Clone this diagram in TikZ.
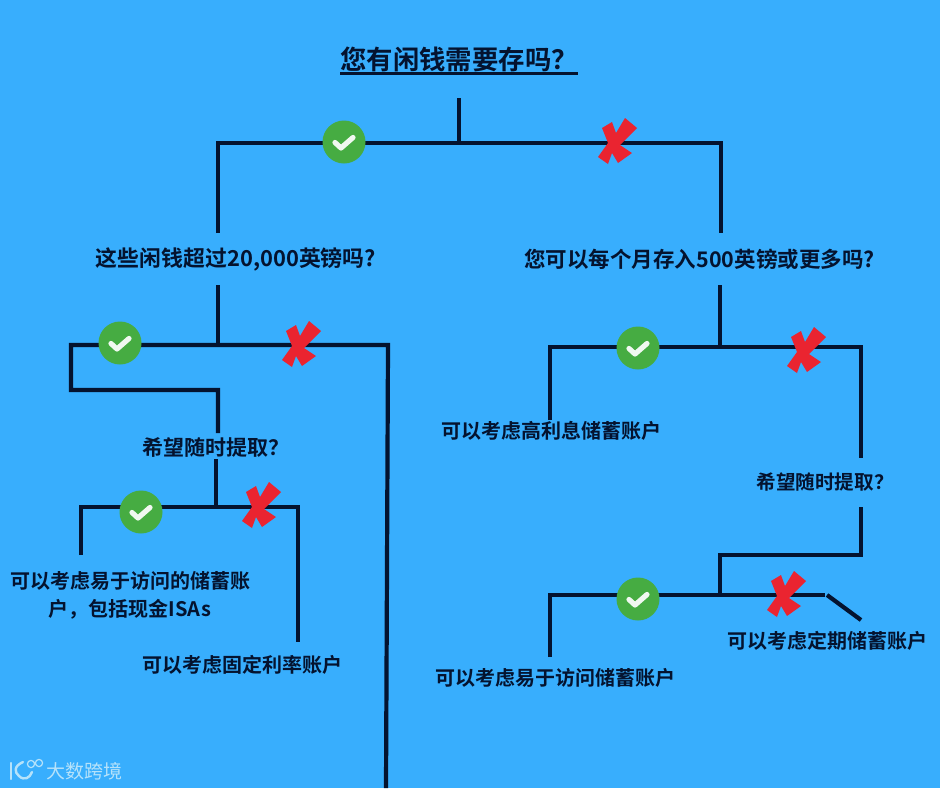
\documentclass[tikz,border=0pt]{standalone}
\usepackage{fontspec}
\newfontfamily\cjkb{Noto Sans CJK SC Bold}
\newfontfamily\cjkr{Noto Sans CJK SC}
\definecolor{bgblue}{HTML}{38AEFD}
\definecolor{ink}{HTML}{04132F}
\definecolor{okgreen}{HTML}{46AC42}
\definecolor{nored}{HTML}{EA2430}
\definecolor{wm}{HTML}{B5E2FA}
\tikzset{
  x=1pt,y=-1pt,
  wire/.style={draw=ink,line width=4.2pt,line join=miter,line cap=butt},
  label/.style={text=ink,font=\cjkb\fontsize{20}{28}\selectfont,inner sep=0pt,align=center},
  yes/.style={circle,fill=okgreen,minimum size=43pt,inner sep=0pt,
    path picture={\draw[white!92!okgreen,line width=5.2pt,line cap=round,line join=round]
      ([shift={(-9,0.5)}]path picture bounding box.center)--++(6,5.5)--++(12,-10.5);}},
  no/.style={minimum size=52pt,inner sep=0pt,
    path picture={\fill[nored]
      ([shift={(8,-24)}]path picture bounding box.center)--([shift={(20,-14)}]path picture bounding box.center)
      --([shift={(3,3)}]path picture bounding box.center)--([shift={(15,11)}]path picture bounding box.center)
      --([shift={(1,21)}]path picture bounding box.center)--([shift={(-5,11)}]path picture bounding box.center)
      --([shift={(-9,22)}]path picture bounding box.center)--([shift={(-19,15)}]path picture bounding box.center)
      --([shift={(-9,1)}]path picture bounding box.center)--([shift={(-15,-14)}]path picture bounding box.center)
      --([shift={(-5,-20)}]path picture bounding box.center)--([shift={(-1,-9)}]path picture bounding box.center)--cycle;}}
}
\begin{document}
\begin{tikzpicture}
\path[fill=bgblue,use as bounding box] (0,0) rectangle (940,788);

% free ends and junctions
\coordinate (top) at (459,98);
\coordinate (j0) at (459,143);
\coordinate (h0l) at (218,143);
\coordinate (h0r) at (721,143);
\coordinate (l0e) at (218,233);
\coordinate (r0e) at (721,233);

\coordinate (ls) at (218,285);
\coordinate (lj) at (218,345);
\coordinate (h1l) at (71,345);
\coordinate (h1r) at (388,345);
\coordinate (h1e) at (386,788);
\coordinate (b1) at (71,390);
\coordinate (b2) at (218,390);
\coordinate (b3) at (218,433);

\coordinate (ms) at (216,459);
\coordinate (mj) at (216,507);
\coordinate (h2l) at (81,507);
\coordinate (h2r) at (298,507);
\coordinate (h2le) at (81,555);
\coordinate (h2re) at (298,642);

\coordinate (rs) at (720,285);
\coordinate (rj) at (720,347);
\coordinate (h3l) at (550,347);
\coordinate (h3r) at (861,347);
\coordinate (h3le) at (550,420);
\coordinate (h3re) at (861,458);

\coordinate (s1) at (861,507);
\coordinate (s2) at (861,555);
\coordinate (s3) at (720,555);
\coordinate (s4) at (720,595);
\coordinate (h4l) at (550,595);
\coordinate (h4r) at (825,595);
\coordinate (h4le) at (550,657);
\coordinate (d1) at (827,595);
\coordinate (d2) at (861,620);

% connectors
\draw[wire] (top)--(j0);
\draw[wire] (l0e)--(h0l)--(h0r)--(r0e);
\draw[wire] (ls)--(lj);
\draw[wire] (h1e)--(h1r)--(h1l)--(b1)--(b2)--(b3);
\draw[wire] (ms)--(mj);
\draw[wire] (h2le)--(h2l)--(h2r)--(h2re);
\draw[wire] (rs)--(rj);
\draw[wire] (h3le)--(h3l)--(h3r)--(h3re);
\draw[wire] (s1)--(s2)--(s3)--(s4);
\draw[wire] (h4le)--(h4l)--(h4r);
\draw[wire] (d1)--(d2);

% marks
\node[yes] (y0) at (344,142) {};
\node[no]  (n0) at (617,142) {};
\node[yes] (y1) at (120,343) {};
\node[no]  (n1) at (301,345) {};
\node[yes] (y2) at (141,512) {};
\node[no]  (n2) at (261,506) {};
\node[yes] (y3) at (638,348) {};
\node[no]  (n3) at (806,351) {};
\node[yes] (y4) at (638,599) {};
\node[no]  (n4) at (786,595) {};

% texts
\node[label,font=\cjkb\fontsize{26.4}{30}\selectfont] (title) at (459,59) {您有闲钱需要存吗？};
\draw[draw=ink,line width=3pt] (340,73)--(578,73);
\node[label,font=\cjkb\fontsize{21.9}{28}\selectfont] (q1) at (236,259) {这些闲钱超过20,000英镑吗?};
\node[label,font=\cjkb\fontsize{21.5}{28}\selectfont] (q2) at (699.5,259) {您可以每个月存入500英镑或更多吗?};
\node[label,font=\cjkb\fontsize{21}{28}\selectfont] (q3) at (215.5,447) {希望随时提取？};
\node[label,font=\cjkb\fontsize{19.6}{28}\selectfont] (q4) at (825,482) {希望随时提取？};
\node[label,align=center] (a1) at (130,595) {可以考虑易于访问的储蓄账\\户，包括现金ISAs};
\node[label] (a2) at (242,665) {可以考虑固定利率账户};
\node[label] (a3) at (551.5,431) {可以考虑高利息储蓄账户};
\node[label] (a4) at (827.5,641) {可以考虑定期储蓄账户};
\node[label] (a5) at (555,678) {可以考虑易于访问储蓄账户};

% watermark
\node[text=wm,font=\cjkr\fontsize{19}{20}\selectfont,inner sep=0pt] (wmark) at (84,771) {大数跨境};
\draw[wm,line width=2.4pt,line cap=round] (11,763)--(11,779);
\draw[wm,line width=2.4pt,line cap=round] (23,762) .. controls (14,766) and (14,772) .. (19,776) .. controls (24,781) and (30,778) .. (32,772);
\draw[wm,line width=1.2pt] (31,764) circle (3.6pt) (39,763) circle (3.6pt);
\end{tikzpicture}
\end{document}
